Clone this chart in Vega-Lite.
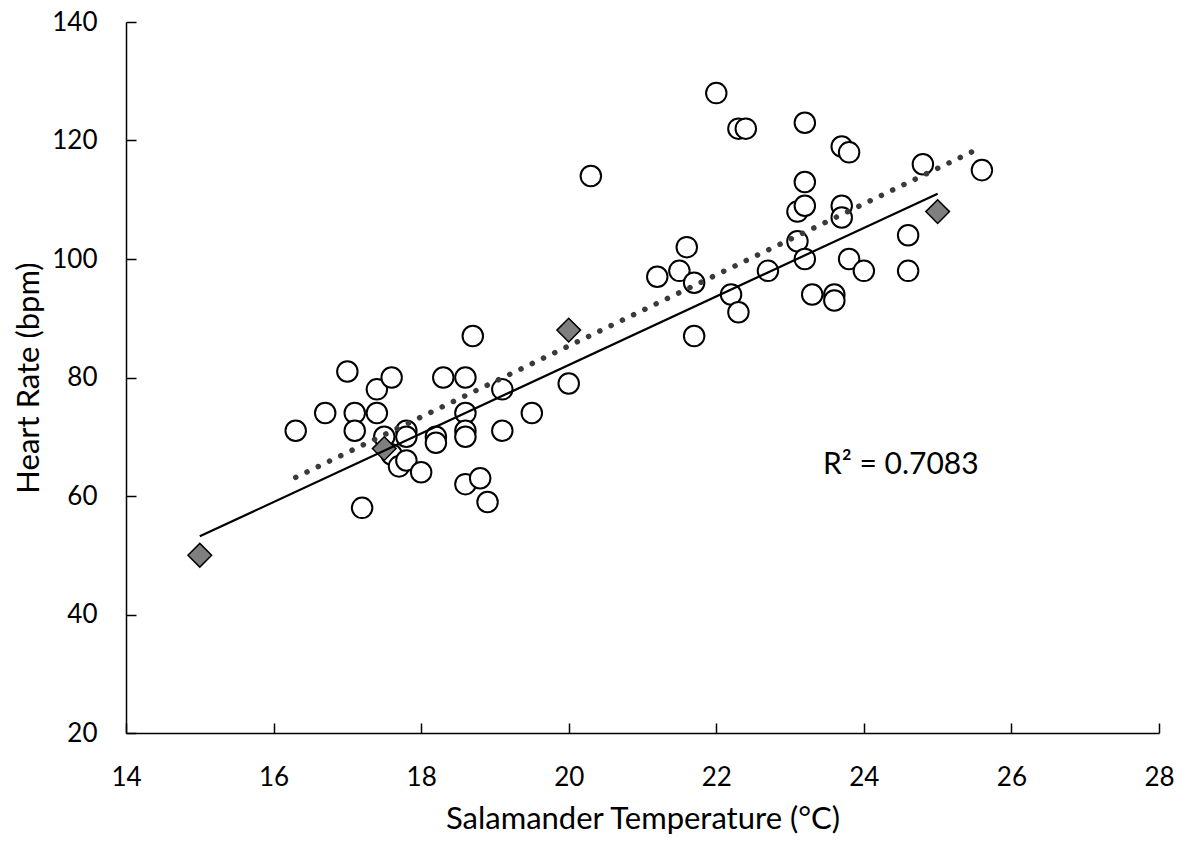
{
  "$schema": "https://vega.github.io/schema/vega-lite/v6.json",
  "width": 1033,
  "height": 711,
  "autosize": "none",
  "padding": {"left": 126, "top": 22, "right": 27, "bottom": 109},
  "background": "white",
  "config": {"view": {"stroke": null}, "font": "Lato", "axis": {"grid": false}},
  "datasets": {
    "circles": [
      {"temp": 16.3, "hr": 71}, {"temp": 16.7, "hr": 74}, {"temp": 17.0, "hr": 81}, {"temp": 17.1, "hr": 74},
      {"temp": 17.1, "hr": 71}, {"temp": 17.4, "hr": 78}, {"temp": 17.4, "hr": 74}, {"temp": 17.5, "hr": 70},
      {"temp": 17.6, "hr": 80}, {"temp": 17.6, "hr": 67}, {"temp": 17.7, "hr": 65}, {"temp": 17.8, "hr": 66},
      {"temp": 17.8, "hr": 71}, {"temp": 17.8, "hr": 70}, {"temp": 18.0, "hr": 64}, {"temp": 17.2, "hr": 58},
      {"temp": 18.2, "hr": 70}, {"temp": 18.2, "hr": 69}, {"temp": 18.3, "hr": 80}, {"temp": 18.6, "hr": 80},
      {"temp": 18.6, "hr": 74}, {"temp": 18.6, "hr": 71}, {"temp": 18.6, "hr": 70}, {"temp": 18.6, "hr": 62},
      {"temp": 18.7, "hr": 87}, {"temp": 18.8, "hr": 63}, {"temp": 18.9, "hr": 59}, {"temp": 19.1, "hr": 78},
      {"temp": 19.1, "hr": 71}, {"temp": 19.5, "hr": 74}, {"temp": 20.0, "hr": 79}, {"temp": 20.3, "hr": 114},
      {"temp": 21.2, "hr": 97}, {"temp": 21.5, "hr": 98}, {"temp": 21.6, "hr": 102}, {"temp": 21.7, "hr": 96},
      {"temp": 21.7, "hr": 87}, {"temp": 22.0, "hr": 128}, {"temp": 22.2, "hr": 94}, {"temp": 22.3, "hr": 91},
      {"temp": 22.3, "hr": 122}, {"temp": 22.4, "hr": 122}, {"temp": 22.7, "hr": 98}, {"temp": 23.1, "hr": 108},
      {"temp": 23.1, "hr": 103}, {"temp": 23.2, "hr": 123}, {"temp": 23.2, "hr": 113}, {"temp": 23.2, "hr": 109},
      {"temp": 23.2, "hr": 100}, {"temp": 23.3, "hr": 94}, {"temp": 23.6, "hr": 94}, {"temp": 23.6, "hr": 93},
      {"temp": 23.7, "hr": 119}, {"temp": 23.8, "hr": 118}, {"temp": 23.7, "hr": 109}, {"temp": 23.7, "hr": 107},
      {"temp": 23.8, "hr": 100}, {"temp": 24.0, "hr": 98}, {"temp": 24.6, "hr": 104}, {"temp": 24.6, "hr": 98},
      {"temp": 24.8, "hr": 116}, {"temp": 25.6, "hr": 115}
    ],
    "diamonds": [
      {"temp": 15, "hr": 50}, {"temp": 17.5, "hr": 68}, {"temp": 20, "hr": 88}, {"temp": 25, "hr": 108}
    ],
    "note": [{"temp": 24.5, "hr": 65.2, "label": "R² = 0.7083"}]
  },
  "encoding": {
    "x": {
      "field": "temp", "type": "quantitative",
      "scale": {"domain": [14, 28], "nice": false, "zero": false},
      "axis": {
        "title": "Salamander Temperature (°C)",
        "values": [14, 16, 18, 20, 22, 24, 26, 28], "format": "d",
        "tickSize": -10, "tickWidth": 1.5, "tickColor": "black",
        "domainColor": "black", "domainWidth": 1.5,
        "labelPadding": 41, "labelFontSize": 26, "labelColor": "black", "labelFlush": false,
        "titleFontSize": 31, "titleFontWeight": "normal", "titleColor": "black",
        "titleY": 95, "titleBaseline": "alphabetic"
      }
    },
    "y": {
      "field": "hr", "type": "quantitative",
      "scale": {"domain": [20, 140], "nice": false, "zero": false},
      "axis": {
        "title": "Heart Rate (bpm)",
        "values": [20, 40, 60, 80, 100, 120, 140], "format": "d",
        "tickSize": -10, "tickWidth": 1.5, "tickColor": "black",
        "domainColor": "black", "domainWidth": 1.5,
        "labelPadding": 39, "labelFontSize": 26, "labelColor": "black", "labelFlush": false,
        "titleFontSize": 31, "titleFontWeight": "normal", "titleColor": "black",
        "titleX": -88, "titleBaseline": "alphabetic"
      }
    }
  },
  "layer": [
    {
      "data": {"name": "circles"},
      "mark": {"type": "point", "shape": "circle", "filled": true, "fill": "white", "stroke": "black", "strokeWidth": 2, "size": 420, "opacity": 1}
    },
    {
      "data": {"name": "diamonds"},
      "mark": {"type": "point", "shape": "diamond", "filled": true, "fill": "#7f7f7f", "stroke": "black", "strokeWidth": 1.5, "size": 560, "opacity": 1}
    },
    {
      "data": {"name": "diamonds"},
      "transform": [{"regression": "hr", "on": "temp"}],
      "mark": {"type": "line", "color": "black", "strokeWidth": 2.2}
    },
    {
      "data": {"name": "circles"},
      "transform": [{"regression": "hr", "on": "temp"}],
      "mark": {"type": "line", "color": "#3a3a3a", "strokeWidth": 5.5, "strokeDash": [0.1, 12.4], "strokeCap": "round"}
    },
    {
      "data": {"name": "note"},
      "mark": {"type": "text", "fontSize": 30, "color": "black", "align": "center", "baseline": "middle"},
      "encoding": {"text": {"field": "label"}}
    }
  ]
}
